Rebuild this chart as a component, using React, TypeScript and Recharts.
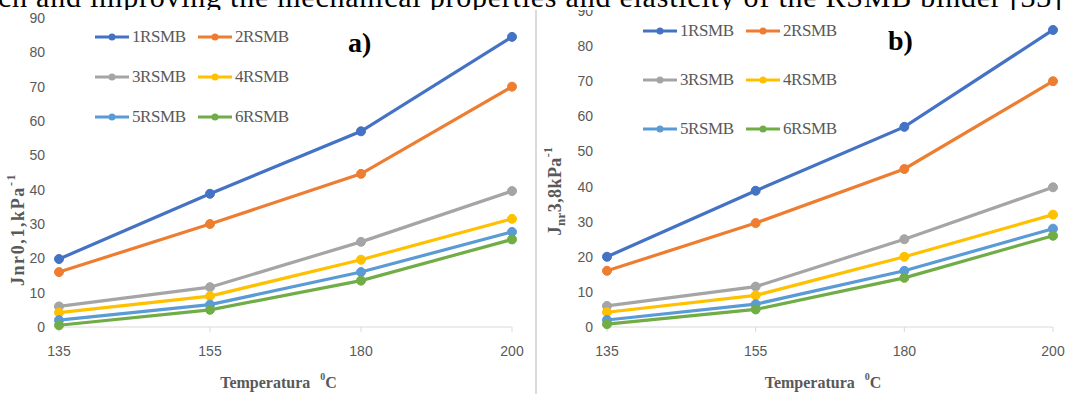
import React from 'react';
import { LineChart, Line, XAxis, YAxis, Legend } from 'recharts';

const temperatures = ['135', '155', '180', '200'];
const seriesNames = ['1RSMB', '2RSMB', '3RSMB', '4RSMB', '5RSMB', '6RSMB'];
const seriesColors = ['#4472C4', '#ED7D31', '#A5A5A5', '#FFC000', '#5B9BD5', '#70AD47'];
const yTicks = [0, 10, 20, 30, 40, 50, 60, 70, 80, 90];

// a) Jnr at 0.1 kPa
const jnr01_1RSMB = [19.8, 38.8, 57.0, 84.5];
const jnr01_2RSMB = [16.0, 30.0, 44.6, 70.0];
const jnr01_3RSMB = [6.0, 11.6, 24.8, 39.6];
const jnr01_4RSMB = [4.2, 9.0, 19.6, 31.5];
const jnr01_5RSMB = [2.0, 6.5, 16.0, 27.7];
const jnr01_6RSMB = [0.5, 5.0, 13.5, 25.5];

// b) Jnr at 3.2 kPa
const jnr38_1RSMB = [20.0, 38.8, 57.0, 84.6];
const jnr38_2RSMB = [16.0, 29.6, 45.0, 70.0];
const jnr38_3RSMB = [6.0, 11.5, 25.0, 39.8];
const jnr38_4RSMB = [4.2, 9.0, 20.0, 32.0];
const jnr38_5RSMB = [2.0, 6.5, 16.0, 28.0];
const jnr38_6RSMB = [0.8, 5.0, 14.0, 26.0];

const buildRows = (series: number[][]) =>
  temperatures.map((t, i) => {
    const row: Record<string, string | number> = { temp: t };
    seriesNames.forEach((n, k) => {
      row[n] = series[k][i];
    });
    return row;
  });

const dataA = buildRows([jnr01_1RSMB, jnr01_2RSMB, jnr01_3RSMB, jnr01_4RSMB, jnr01_5RSMB, jnr01_6RSMB]);
const dataB = buildRows([jnr38_1RSMB, jnr38_2RSMB, jnr38_3RSMB, jnr38_4RSMB, jnr38_5RSMB, jnr38_6RSMB]);

const tickFont = '"Liberation Sans Narrow", "Liberation Sans", sans-serif';
const serif = '"Liberation Serif", serif';
const grey = '#595959';

const makeLegend = (rowHeight: number) => (props: any) => {
  const items = props.payload || [];
  return (
    <div
      style={{
        display: 'grid',
        gridTemplateColumns: '103px 103px',
        gridAutoRows: rowHeight,
        alignItems: 'center',
      }}
    >
      {items.map((it: any) => (
        <div key={it.value} style={{ display: 'flex', alignItems: 'center' }}>
          <svg width={34} height={10}>
            <line x1={0} y1={5} x2={34} y2={5} stroke={it.color} strokeWidth={3} />
            <circle cx={17} cy={5} r={3.5} fill={it.color} />
          </svg>
          <span style={{ fontFamily: serif, fontSize: 17, color: grey, marginLeft: 3, letterSpacing: -0.4 }}>
            {it.value}
          </span>
        </div>
      ))}
    </div>
  );
};

const YTitle = ({ viewBox, dx, dy, variant }: any) => {
  const x = viewBox.x + dx;
  const y = viewBox.y + viewBox.height / 2 + dy;
  return (
    <text
      x={x}
      y={y}
      transform={`rotate(-90, ${x}, ${y})`}
      textAnchor="middle"
      dominantBaseline="central"
      fill={grey}
      fontFamily={serif}
      fontWeight="bold"
      fontSize={18}
      letterSpacing={variant === 'a' ? 1.6 : 0.4}
    >
      {variant === 'a' ? (
        <>
          <tspan>Jnr0,1,kPa</tspan>
          <tspan dy={-7} fontSize={12}>-1</tspan>
        </>
      ) : (
        <>
          <tspan>J</tspan>
          <tspan dy={5} fontSize={13}>nr</tspan>
          <tspan dy={-5}>3,8kPa</tspan>
          <tspan dy={-7} fontSize={12}>-1</tspan>
        </>
      )}
    </text>
  );
};

const XTitle = ({ viewBox }: any) => {
  const x = viewBox.x + viewBox.width / 2 - 7;
  const y = viewBox.y + 55;
  return (
    <text x={x} y={y} textAnchor="middle" dominantBaseline="central" fill={grey} fontFamily={serif} fontWeight="bold" fontSize={16}>
      <tspan>Temperatura</tspan>
      <tspan dx={10} dy={-6} fontSize={10}>0</tspan>
      <tspan dy={6}>C</tspan>
    </text>
  );
};

interface PanelProps {
  data: Record<string, string | number>[];
  width: number;
  margin: { top: number; right: number; left: number; bottom: number };
  variant: 'a' | 'b';
  legendPos: { left: number; top: number };
  rowHeight: number;
  yTitleOffset: { dx: number; dy: number };
}

const Panel: React.FC<PanelProps> = ({ data, width, margin, variant, legendPos, rowHeight, yTitleOffset }) => (
  <LineChart width={width} height={394} data={data} margin={margin}>
    <XAxis
      dataKey="temp"
      height={67}
      padding={{ left: 0, right: 0 }}
      stroke="#d9d9d9"
      tickSize={5}
      tickMargin={14}
      interval={0}
      tick={{ fill: grey, fontSize: 14, fontFamily: tickFont }}
      label={<XTitle />}
    />
    <YAxis
      width={50}
      domain={[0, 90]}
      ticks={yTicks}
      interval={0}
      axisLine={false}
      tickLine={false}
      tickSize={6}
      tickMargin={8}
      tick={{ fill: grey, fontSize: 14, fontFamily: tickFont }}
      label={<YTitle dx={yTitleOffset.dx} dy={yTitleOffset.dy} variant={variant} />}
    />
    <Legend
      layout="horizontal"
      verticalAlign="middle"
      align="center"
      content={makeLegend(rowHeight)}
      wrapperStyle={{ left: legendPos.left, top: legendPos.top, width: 220 }}
    />
    {seriesNames.map((n, i) => (
      <Line
        key={n}
        dataKey={n}
        name={n}
        stroke={seriesColors[i]}
        strokeWidth={3.2}
        dot={{ r: 4.5, fill: seriesColors[i], stroke: seriesColors[i], strokeWidth: 1 }}
        isAnimationActive={false}
      />
    ))}
  </LineChart>
);

export default function App() {
  return (
    <div style={{ position: 'absolute', left: 0, top: 0, width: 1067, height: 394, background: '#fff', overflow: 'hidden' }}>
      <div style={{ position: 'absolute', left: 0, top: 0 }}>
        <Panel
          data={dataA}
          width={536}
          margin={{ top: 18, right: 24, left: 9, bottom: 0 }}
          variant="a"
          legendPos={{ left: 95, top: 17 }}
          rowHeight={40}
          yTitleOffset={{ dx: 9, dy: 57 }}
        />
      </div>
      <div style={{ position: 'absolute', left: 537, top: 0 }}>
        <Panel
          data={dataB}
          width={530}
          margin={{ top: 11, right: 14, left: 20, bottom: 0 }}
          variant="b"
          legendPos={{ left: 106, top: 6 }}
          rowHeight={49}
          yTitleOffset={{ dx: -2, dy: 22 }}
        />
      </div>
      <div style={{ position: 'absolute', left: 348, top: 27, fontFamily: serif, fontWeight: 'bold', fontSize: 28, color: '#000' }}>a)</div>
      <div style={{ position: 'absolute', left: 888, top: 25, fontFamily: serif, fontWeight: 'bold', fontSize: 28, color: '#000' }}>b)</div>
      <div style={{ position: 'absolute', left: 535, top: 8, width: 2, height: 386, background: '#d9d9d9' }} />
      <svg width={1067} height={10} style={{ position: 'absolute', left: 0, top: 0, background: '#fff' }}>
        <text x={-2} y={7} textLength={1064} lengthAdjust="spacing" fontFamily={serif} fontSize={30} fill="#000">
          ch and improving the mechanical properties and elasticity of the RSMB binder [33]
        </text>
      </svg>
    </div>
  );
}
